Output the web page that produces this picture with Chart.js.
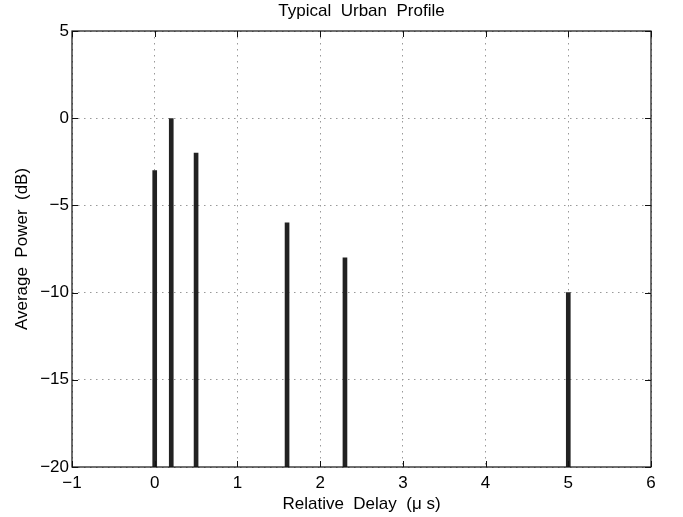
<!DOCTYPE html>
<html>
<head>
<meta charset="utf-8">
<script src="https://cdn.jsdelivr.net/npm/chart.js@4.4.1/dist/chart.umd.min.js"></script>
<style>
  html, body { margin: 0; padding: 0; background: #fff; }
  #wrap { width: 683px; height: 517px; }
</style>
</head>
<body>
<div id="wrap"><canvas id="c" width="683" height="517"></canvas></div>
<script>
// delays in microseconds and average power in dB
const delays = [0, 0.2, 0.5, 1.6, 2.3, 5.0];
const powers = [-3, 0, -2, -6, -8, -10];
const floorDb = -20;
const xTicks = [-1, 0, 1, 2, 3, 4, 5, 6];
const yTicks = [-20, -15, -10, -5, 0, 5];

const fontFam = "'Liberation Sans', Arial, Helvetica, sans-serif";
const minus = v => String(v).replace('-', '\u2212');

// box around plot area + inward ticks on all four sides (matlab style)
const boxTicks = {
    id: 'boxTicks',
    afterDraw(chart) {
        const ctx = chart.ctx;
        const a = chart.chartArea;
        const xs = chart.scales.x, ys = chart.scales.y;
        ctx.save();
        ctx.strokeStyle = '#111';
        ctx.lineWidth = 1;
        ctx.beginPath();
        xTicks.forEach(t => {
            const px = Math.round(xs.getPixelForValue(t)) + 0.5;
            ctx.moveTo(px, a.bottom); ctx.lineTo(px, a.bottom - 6);
            ctx.moveTo(px, a.top); ctx.lineTo(px, a.top + 6);
        });
        yTicks.forEach(t => {
            const py = Math.round(ys.getPixelForValue(t)) + 0.5;
            ctx.moveTo(a.left, py); ctx.lineTo(a.left + 6, py);
            ctx.moveTo(a.right, py); ctx.lineTo(a.right - 6, py);
        });
        ctx.stroke();
        ctx.lineWidth = 1.2;
        ctx.strokeRect(a.left, a.top, a.right - a.left, a.bottom - a.top);
        ctx.restore();
    }
};

new Chart(document.getElementById('c'), {
    type: 'bar',
    data: {
        datasets: [{
            data: delays.map((d, i) => ({ x: d, y: [floorDb, powers[i]] })),
            backgroundColor: '#222',
            borderWidth: 0,
            barThickness: 4,
            grouped: false
        }]
    },
    options: {
        responsive: false,
        animation: false,
        layout: { padding: { left: 0, right: 32, top: 0, bottom: 0 } },
        plugins: {
            legend: { display: false },
            tooltip: { enabled: false },
            title: {
                display: true,
                text: 'Typical  Urban  Profile',
                color: '#000',
                fullSize: false,
                font: { family: fontFam, size: 17, weight: 'normal', lineHeight: 1.2 },
                padding: { top: 1.3, bottom: 9.3 }
            }
        },
        scales: {
            x: {
                type: 'linear',
                min: -1, max: 6,
                offset: false,
                afterBuildTicks: s => { s.ticks = xTicks.map(v => ({ value: v })); },
                afterFit: s => { s.height = 50; },
                ticks: {
                    color: '#000',
                    padding: 6,
                    maxRotation: 0,
                    font: { family: fontFam, size: 17 },
                    callback: v => minus(v)
                },
                grid: { color: '#999', drawTicks: false, lineWidth: 1, offset: false },
                border: { display: false, dash: [1.5, 4.5] },
                title: {
                    display: true,
                    text: 'Relative  Delay  (\u03bc s)',
                    color: '#000',
                    font: { family: fontFam, size: 17 },
                    padding: { top: 0, bottom: 2 }
                }
            },
            y: {
                type: 'linear',
                min: -20, max: 5,
                afterBuildTicks: s => { s.ticks = yTicks.map(v => ({ value: v })); },
                afterFit: s => { s.width = 72; },
                ticks: {
                    color: '#000',
                    padding: 3,
                    font: { family: fontFam, size: 17 },
                    callback: v => minus(v)
                },
                grid: { color: '#999', drawTicks: false, lineWidth: 1 },
                border: { display: false, dash: [1.5, 4.5] },
                title: {
                    display: true,
                    text: 'Average  Power  (dB)',
                    color: '#000',
                    font: { family: fontFam, size: 17 },
                    padding: { top: 12, bottom: 0 }
                }
            }
        }
    },
    plugins: [boxTicks]
});
</script>
</body>
</html>
